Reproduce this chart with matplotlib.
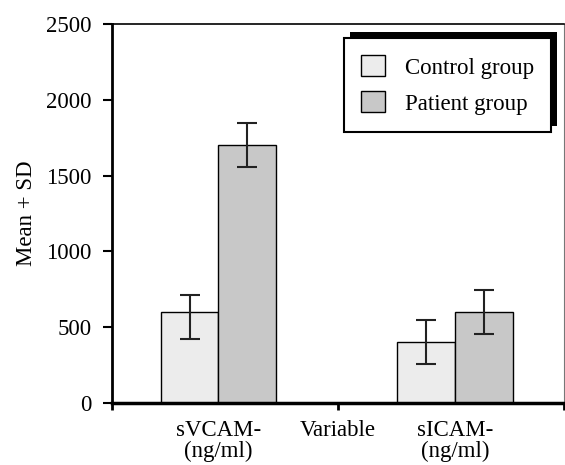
"""
Grouped bar chart: sVCAM / sICAM, control vs patient (mean + SD).
"""
import numpy as np
import matplotlib
matplotlib.use("Agg")
import matplotlib.pyplot as plt
from matplotlib.patches import Rectangle
from matplotlib.transforms import IdentityTransform

plt.rcParams["font.family"] = ["Liberation Serif", "DejaVu Serif"]

categories = ["sVCAM-\n(ng/ml)", "sICAM-\n(ng/ml)"]
groups = ["Control group", "Patient group"]
control_mean = [600, 400]
patient_mean = [1700, 600]
# error bar ends
control_low = [422, 255]
control_high = [712, 545]
patient_low = [1557, 457]
patient_high = [1847, 747]

colours = ["#ececec", "#c8c8c8"]
FS = 16.5

fig = plt.figure(figsize=(5.65, 4.65), dpi=100)
fig.patch.set_facecolor("white")
ax = fig.add_axes([112/565, 1 - 403/465, 452/565, (403 - 24)/465])

x = np.arange(len(categories))
w = 0.245
for i, (means, lo, hi) in enumerate([(control_mean, control_low, control_high),
                                      (patient_mean, patient_low, patient_high)]):
    xs = x + (i - 0.5) * w
    ax.bar(xs, means, width=w, color=colours[i], edgecolor="black",
           linewidth=1.0, label=groups[i], zorder=2)
    yerr = [np.array(means) - np.array(lo), np.array(hi) - np.array(means)]
    ax.errorbar(xs, means, yerr=yerr, fmt="none", ecolor="#222222",
                elinewidth=1.5, capsize=7.5, capthick=1.5, zorder=3)

ax.set_xlim(-0.45, 1.46)
ax.set_ylim(0, 2500)
ax.set_yticks(np.arange(0, 2501, 500))
ax.tick_params(axis="y", direction="out", length=6.5, width=1.5, labelsize=FS, pad=8)

# boundary ticks without labels, category labels on minor ticks
ax.xaxis.remove_overlapping_locs = False
ax.set_xticks([-0.45, 0.505, 1.46])
ax.set_xticklabels([])
ax.tick_params(axis="x", which="major", direction="out", length=5, width=2)
ax.set_xticks([0, 0.505, 1], minor=True)
ax.set_xticklabels([categories[0], "Variable", categories[1]], minor=True,
                   linespacing=1.0)
ax.tick_params(axis="x", which="minor", length=0, labelsize=FS, pad=12)

ax.set_ylabel("Mean + SD", fontsize=FS, labelpad=7)

ax.spines["left"].set_linewidth(2)
ax.spines["bottom"].set_linewidth(2.5)
ax.spines["top"].set_linewidth(1.2)
ax.spines["right"].set_linewidth(0.8)
ax.spines["right"].set_color("#777777")

leg = ax.legend(loc="upper left", bbox_to_anchor=(344/565, 1 - 38/465),
                bbox_transform=fig.transFigure, borderaxespad=0,
                fontsize=FS, fancybox=False, framealpha=1, edgecolor="black",
                handlelength=1.05, handleheight=1.05, handletextpad=0.85,
                borderpad=0.75, labelspacing=0.55)
leg.get_frame().set_linewidth(1.5)

# shadow offset up and to the right
fig.canvas.draw()
bb = leg.get_window_extent()
ax.add_patch(Rectangle((bb.x0 + 6, bb.y0 + 6), bb.width, bb.height,
                       transform=IdentityTransform(), facecolor="black",
                       edgecolor="none", clip_on=False, zorder=4))

plt.savefig("out.png", dpi=100, facecolor="white")
